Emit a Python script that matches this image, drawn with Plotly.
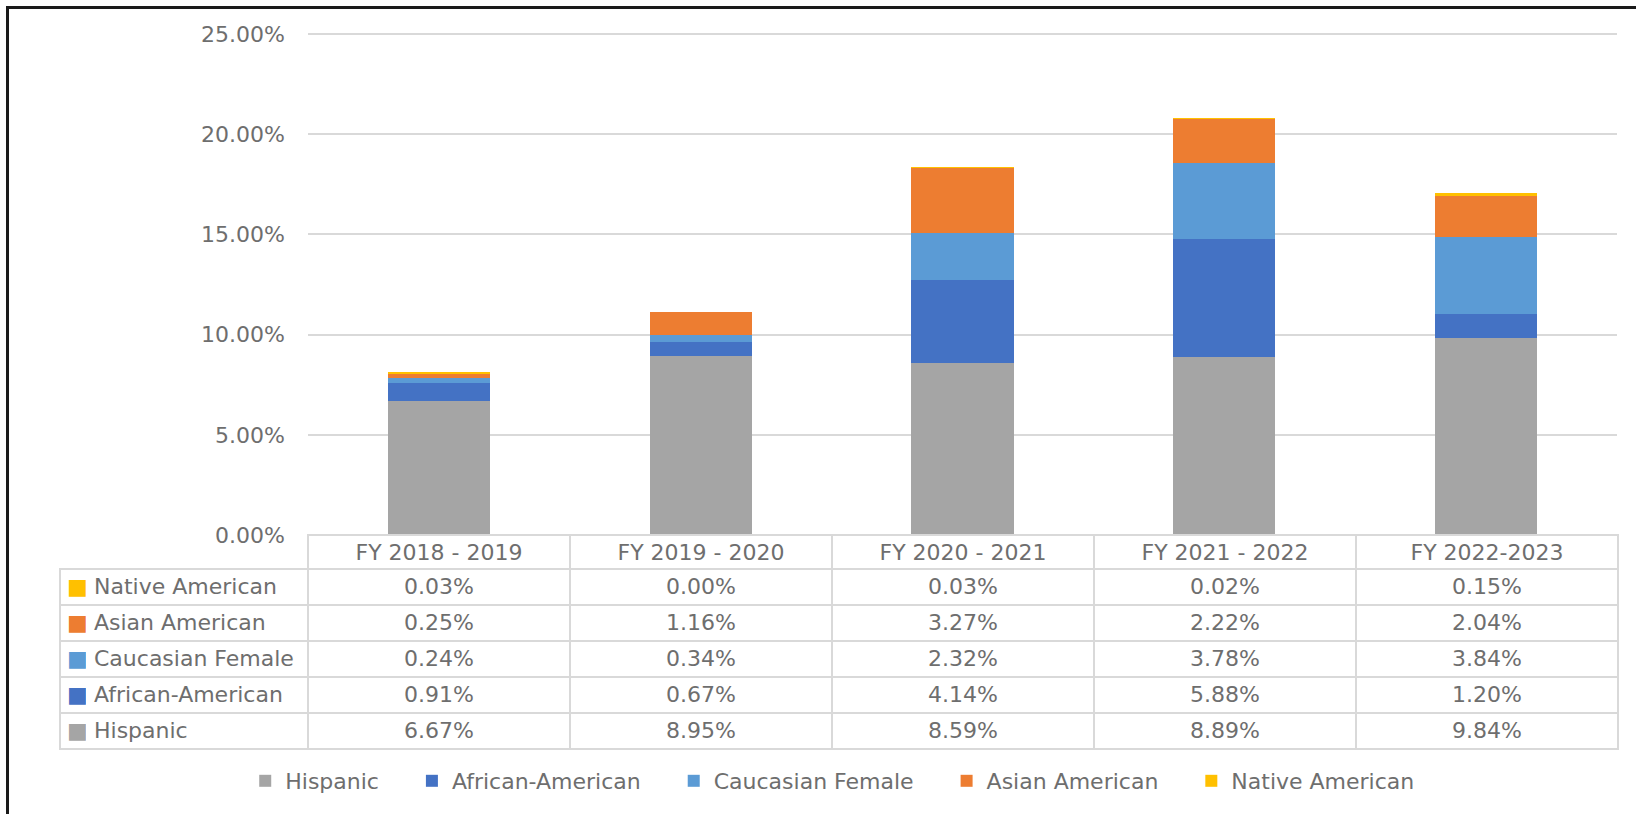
import plotly.graph_objects as go

categories = ["FY 2018 - 2019", "FY 2019 - 2020", "FY 2020 - 2021", "FY 2021 - 2022", "FY 2022-2023"]
hispanic = [6.67, 8.95, 8.59, 8.89, 9.84]
african_american = [0.91, 0.67, 4.14, 5.88, 1.20]
caucasian_female = [0.24, 0.34, 2.32, 3.78, 3.84]
asian_american = [0.25, 1.16, 3.27, 2.22, 2.04]
native_american = [0.03, 0.00, 0.03, 0.02, 0.15]

series = [
    ("Hispanic", hispanic, "#A5A5A5"),
    ("African-American", african_american, "#4472C4"),
    ("Caucasian Female", caucasian_female, "#5B9BD5"),
    ("Asian American", asian_american, "#ED7D31"),
    ("Native American", native_american, "#FFC000"),
]

W, H = 1636, 814
FONT = "DejaVu Sans"
TXT = "#6e6e6e"
FS = 22
NB = "\u00a0"

fig = go.Figure()
for k, (name, vals, col) in enumerate(series):
    legend_name = name + (NB * 4 if k < len(series) - 1 else "")
    fig.add_trace(go.Bar(x=categories, y=vals, name=legend_name, marker=dict(color=col, line=dict(width=0)),
                         xaxis="x", yaxis="y"))

# data table below the chart (rows listed top to bottom)
rows = list(reversed(series))
row_names = [n_.replace(" ", NB) for n_, v, c in rows]
row_colors = [c for n_, v, c in rows]
data_cols = [[f"{v[i]:.2f}%" for n_, v, c in rows] for i in range(len(categories))]

grid = "#d9d9d9"
clear = "rgba(0,0,0,0)"
n = len(categories)
tbl_y = [1 - 752 / H, 1 - 535 / H]
# grid of the table with the values
fig.add_trace(go.Table(
    domain=dict(x=[60 / W, 1618 / W], y=tbl_y),
    columnwidth=[248] + [262] * n,
    header=dict(values=[""] + categories, height=34,
                line=dict(color=[clear] + [grid] * n, width=[0] + [1.5] * n),
                fill=dict(color=[clear] + ["white"] * n), align="center",
                font=dict(family=FONT, size=FS, color=TXT)),
    cells=dict(values=[[""] * len(rows)] + data_cols, height=36,
               line=dict(color=grid, width=1.5), fill=dict(color="white"),
               align=["left"] + ["center"] * n,
               font=dict(family=FONT, size=FS, color=TXT)),
))
# coloured keys in the first column
fig.add_trace(go.Table(
    domain=dict(x=[59 / W, 86 / W], y=tbl_y),
    header=dict(values=[""], height=34, line=dict(color=clear, width=0), fill=dict(color=clear)),
    cells=dict(values=[["■"] * len(rows)], height=36, line=dict(color=clear, width=0), fill=dict(color=clear),
               align="left", font=dict(family=FONT, size=FS, color=[row_colors])),
))
# series names in the first column
fig.add_trace(go.Table(
    domain=dict(x=[86 / W, 308 / W], y=tbl_y),
    header=dict(values=[""], height=34, line=dict(color=clear, width=0), fill=dict(color=clear)),
    cells=dict(values=[row_names], height=36, line=dict(color=clear, width=0), fill=dict(color=clear),
               align="left", font=dict(family=FONT, size=FS, color=TXT)),
))

fig.update_layout(
    width=W, height=H, autosize=False,
    margin=dict(l=0, r=0, t=0, b=0, autoexpand=False),
    paper_bgcolor="white", plot_bgcolor="white",
    barmode="stack", bargap=0.61,
    font=dict(family=FONT, size=FS, color=TXT),
    xaxis=dict(domain=[308 / W, 1617 / W], showticklabels=False, showgrid=False, zeroline=False,
               showline=False, ticks="", automargin=False),
    yaxis=dict(domain=[1 - 535 / H, 1 - 30 / H], range=[0, 25.2], dtick=5, tickformat=".2f", ticksuffix="%",
               showgrid=True, gridcolor=grid, gridwidth=1.8, zeroline=False, showline=False, ticks="",
               ticklabelstandoff=22, automargin=False, tickfont=dict(family=FONT, size=FS, color=TXT)),
    legend=dict(orientation="h", x=0.509, xanchor="center", y=1 - 781 / H, yanchor="middle",
                traceorder="normal", itemwidth=30, font=dict(family=FONT, size=FS, color=TXT)),
    shapes=[
        dict(type="line", xref="paper", yref="paper", x0=7.5 / W, x1=7.5 / W, y0=0, y1=1 - 6 / H,
             line=dict(color="#1a1a1a", width=3)),
        dict(type="line", xref="paper", yref="paper", x0=6 / W, x1=1, y0=1 - 7.5 / H, y1=1 - 7.5 / H,
             line=dict(color="#1a1a1a", width=3)),
    ],
)

post = (
    "document.documentElement.style.margin='0';document.documentElement.style.padding='0';"
    "document.documentElement.style.overflow='hidden';"
    "document.body.style.margin='0';document.body.style.padding='0';document.body.style.overflow='hidden';"
    "var d=document.getElementById('{plot_id}');d.style.position='absolute';d.style.left='0px';d.style.top='0px';"
)
fig.write_html("out.html", config={"displayModeBar": False}, post_script=post)
